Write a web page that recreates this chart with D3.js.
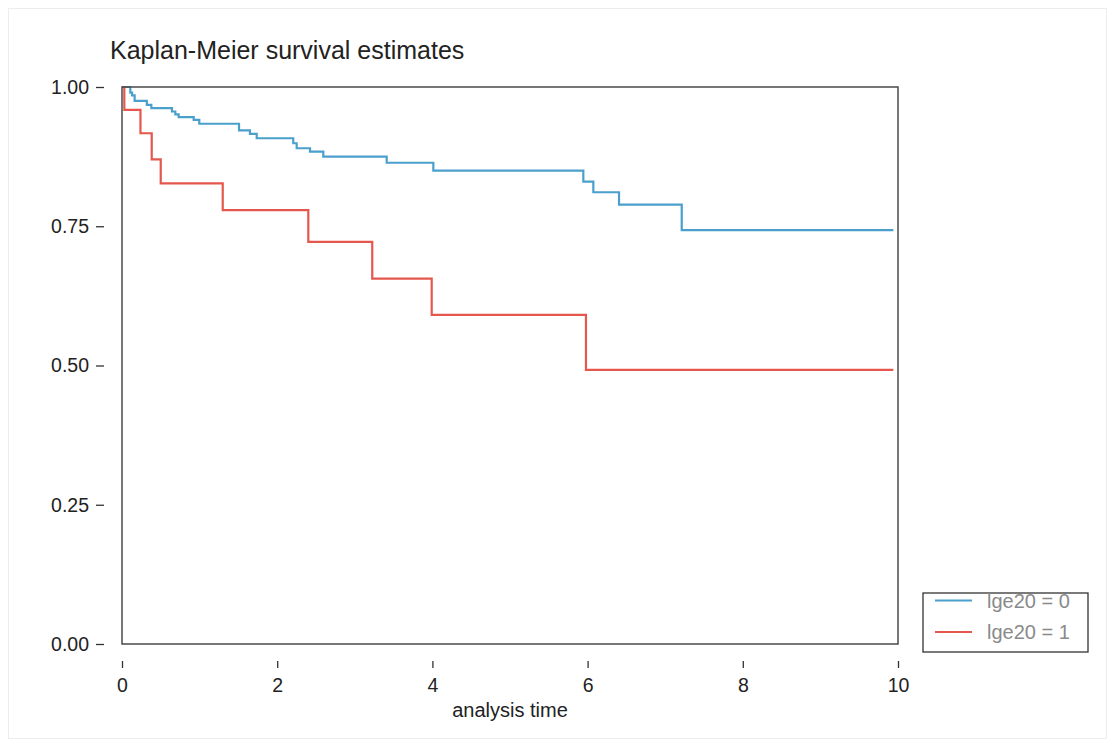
<!DOCTYPE html>
<html>
<head>
<meta charset="utf-8">
<script src="https://cdn.jsdelivr.net/npm/d3@7"></script>
<style>
    body { margin: 0; background: #fff; }
    svg text { font-family: "Liberation Sans", Arial, Helvetica, sans-serif; }
</style>
</head>
<body>
<svg id="chart"></svg>
<script>

// survival steps (time, survival after drop)
const groups = ['lge20 = 0', 'lge20 = 1'];
const colors = ['#4a9fcc', '#e5574c'];

const timesBlue = [0, 0.107, 0.13, 0.163, 0.32, 0.378, 0.644, 0.687, 0.73, 0.924, 0.996,
    1.508, 1.649, 1.736, 2.207, 2.251, 2.423, 2.594, 3.411, 4.012, 5.945, 6.074, 6.405, 7.213, 9.94];
const survBlue = [1, 0.990, 0.985, 0.975, 0.968, 0.962, 0.956, 0.951, 0.946, 0.941, 0.934,
    0.922, 0.916, 0.908, 0.899, 0.890, 0.884, 0.875, 0.864, 0.850, 0.830, 0.811, 0.789, 0.743, 0.743];

const timesRed = [0, 0.03, 0.238, 0.383, 0.499, 1.298, 2.401, 3.225, 3.991, 5.979, 9.94];
const survRed = [1, 0.959, 0.917, 0.870, 0.827, 0.779, 0.722, 0.656, 0.591, 0.492, 0.492];

const xTicks = [0, 2, 4, 6, 8, 10];
const yTicks = [0, 0.25, 0.5, 0.75, 1];

class KMChart {

    constructor( config, series ) {
        this.config = {
            parent: config.parent,
            width: config.width || 1115,
            height: config.height || 747,
            margin: config.margin || { left: 122, right: 217, top: 87, bottom: 103 },
            title: config.title || ''
        }
        this.series = series;
        this.init();
    }

    init() {
        let self = this;
        let m = self.config.margin;

        self.svg = d3.select( self.config.parent )
            .attr('width', self.config.width)
            .attr('height', self.config.height);

        self.inner_width = self.config.width - m.left - m.right;
        self.inner_height = self.config.height - m.top - m.bottom;

        self.xscale = d3.scaleLinear()
            .domain([0, 10])
            .range([m.left, m.left + self.inner_width]);

        self.yscale = d3.scaleLinear()
            .domain([0, 1])
            .range([m.top + self.inner_height, m.top]);
    }

    render() {
        let self = this;
        let m = self.config.margin;

        // faint frame around the whole figure
        self.svg.append('rect')
            .attr('x', 8.5).attr('y', 8.5)
            .attr('width', self.config.width - 17)
            .attr('height', self.config.height - 17)
            .attr('fill', 'none')
            .attr('stroke', '#ededed');

        self.svg.append('text')
            .attr('x', 110)
            .attr('y', 59)
            .attr('fill', '#222')
            .style('font-size', '25px')
            .text(self.config.title);

        let line = d3.line()
            .x( d => self.xscale(d[0]) )
            .y( d => self.yscale(d[1]) )
            .curve(d3.curveStepAfter);

        self.svg.selectAll('path.km')
            .data(self.series)
            .enter()
            .append('path')
            .attr('class', 'km')
            .attr('d', d => line( d3.zip(d.times, d.surv) ))
            .attr('fill', 'none')
            .attr('stroke', d => d.color)
            .attr('stroke-width', 2.2);

        // plot box
        self.svg.append('rect')
            .attr('x', m.left)
            .attr('y', m.top)
            .attr('width', self.inner_width)
            .attr('height', self.inner_height)
            .attr('fill', 'none')
            .attr('stroke', '#4a4a4a')
            .attr('stroke-width', 1.5);

        let yaxis = d3.axisLeft(self.yscale)
            .tickValues(yTicks)
            .tickFormat(d3.format('.2f'))
            .tickSize(8)
            .tickPadding(7);

        let yg = self.svg.append('g')
            .attr('transform', `translate(${m.left - 18}, 0)`)
            .call(yaxis);

        let xaxis = d3.axisBottom(self.xscale)
            .tickValues(xTicks)
            .tickFormat(d3.format('d'))
            .tickSize(7)
            .tickPadding(10);

        let xg = self.svg.append('g')
            .attr('transform', `translate(0, ${m.top + self.inner_height + 17})`)
            .call(xaxis);

        [yg, xg].forEach( g => {
            g.select('.domain').remove();
            g.selectAll('.tick line').attr('stroke', '#333').attr('stroke-width', 1.3);
            g.selectAll('.tick text')
                .attr('fill', '#222')
                .style('font-size', '19.5px')
                .style('font-family', '"Liberation Sans", Arial, sans-serif');
        });

        self.svg.append('text')
            .attr('x', self.xscale(5))
            .attr('y', 717)
            .attr('text-anchor', 'middle')
            .attr('fill', '#222')
            .style('font-size', '20px')
            .text('analysis time');

        // legend
        let lg = self.svg.append('g')
            .attr('transform', 'translate(923, 593)');

        lg.append('rect')
            .attr('width', 165)
            .attr('height', 59)
            .attr('fill', '#fff')
            .attr('stroke', '#333')
            .attr('stroke-width', 1.3);

        let items = lg.selectAll('g.item')
            .data(self.series)
            .enter()
            .append('g')
            .attr('class', 'item')
            .attr('transform', (d, i) => `translate(0, ${7.5 + i * 31.5})`);

        items.append('line')
            .attr('x1', 12).attr('x2', 49)
            .attr('stroke', d => d.color)
            .attr('stroke-width', 2.2);

        items.append('text')
            .attr('x', 64)
            .attr('dy', '0.36em')
            .attr('fill', '#8a8a8a')
            .style('font-size', '20px')
            .text( d => d.label );
    }

}

let chart = new KMChart({
    parent: '#chart',
    title: 'Kaplan-Meier survival estimates'
}, [
    { label: groups[0], color: colors[0], times: timesBlue, surv: survBlue },
    { label: groups[1], color: colors[1], times: timesRed, surv: survRed }
]);
chart.render();

</script>
</body>
</html>
